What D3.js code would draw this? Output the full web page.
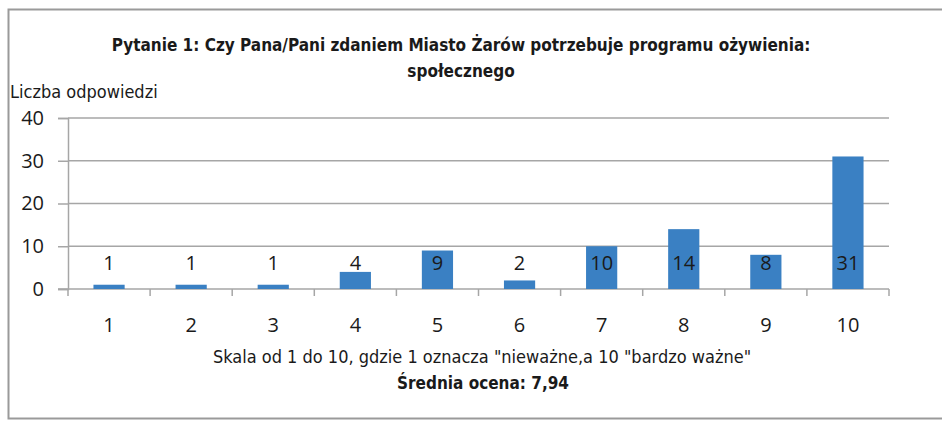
<!DOCTYPE html>
<html>
<head>
<meta charset="utf-8">
<script src="https://cdn.jsdelivr.net/npm/d3@7"></script>
<style>
  body { margin: 0; background: #fff; }
  text { font-family: "Liberation Sans Narrow", "DejaVu Sans Condensed", "Open Sans", sans-serif; fill: #1a1a1a; }
</style>
</head>
<body>
<div id="chart"></div>
<script>
var categories = ["1", "2", "3", "4", "5", "6", "7", "8", "9", "10"];
var values = [1, 1, 1, 4, 9, 2, 10, 14, 8, 31];
var yTicks = [0, 10, 20, 30, 40];
var titleLines = ["Pytanie 1: Czy Pana/Pani zdaniem Miasto Żarów potrzebuje programu ożywienia:", "społecznego"];
var yTitle = "Liczba odpowiedzi";
var xTitle = "Skala od 1 do 10, gdzie 1 oznacza \"nieważne,a 10 \"bardzo ważne\"";
var meanText = "Średnia ocena: 7,94";

var W = 942, H = 421;
var margin = { top: 118, right: 53, bottom: 132, left: 68 },
  width = W - margin.left - margin.right,
  height = H - margin.top - margin.bottom;

var svg = d3.select("#chart")
  .append("svg")
  .attr("width", W)
  .attr("height", H);

// outer frame
svg.append("rect")
  .attr("x", 8.5).attr("y", 9.5)
  .attr("width", W + 10).attr("height", 409)
  .attr("fill", "none")
  .attr("stroke", "#9a9a9a")
  .attr("stroke-width", 2);

var g = svg.append("g")
  .attr("transform", "translate(" + margin.left + "," + margin.top + ")");

var xScale = d3.scaleBand()
  .domain(categories)
  .range([0, width])
  .paddingInner(0.62)
  .paddingOuter(0.31);

var xBand = d3.scaleBand().domain(categories).range([0, width]);

var yScale = d3.scaleLinear()
  .domain([0, 40])
  .range([height, 0]);

// gridlines
g.append("g")
  .selectAll("line")
  .data(yTicks.filter(function (d) { return d > 0; }))
  .enter()
  .append("line")
  .attr("x1", 0).attr("x2", width)
  .attr("y1", function (d) { return yScale(d); })
  .attr("y2", function (d) { return yScale(d); })
  .attr("stroke", "#a6a6a6")
  .attr("stroke-width", 1.5);

// y axis
var yAxis = g.append("g")
  .call(d3.axisLeft(yScale).tickValues(yTicks).tickSize(10).tickPadding(14));
yAxis.selectAll("line").attr("stroke", "#a6a6a6").attr("stroke-width", 1.5);
yAxis.select(".domain").attr("stroke", "#a6a6a6").attr("stroke-width", 1.5);
yAxis.selectAll("text")
  .style("font-family", "'Open Sans', sans-serif")
  .style("font-size", "20px")
  .attr("fill", "#1a1a1a");

// x axis line with ticks at band boundaries
g.append("line")
  .attr("x1", -10).attr("x2", width)
  .attr("y1", height).attr("y2", height)
  .attr("stroke", "#a6a6a6").attr("stroke-width", 1.5);

var bounds = categories.map(function (c) { return xBand(c); }).concat([width]);
g.append("g")
  .selectAll("line")
  .data(bounds)
  .enter()
  .append("line")
  .attr("x1", function (d) { return d; })
  .attr("x2", function (d) { return d; })
  .attr("y1", height).attr("y2", height + 7)
  .attr("stroke", "#a6a6a6").attr("stroke-width", 1.5);

g.append("g")
  .selectAll("text")
  .data(categories)
  .enter()
  .append("text")
  .attr("x", function (d) { return xBand(d) + xBand.bandwidth() / 2; })
  .attr("y", height + 43)
  .attr("text-anchor", "middle")
  .style("font-family", "'Open Sans', sans-serif")
  .style("font-size", "20px")
  .text(function (d) { return d; });

// bars
g.append("g")
  .selectAll("rect")
  .data(values)
  .enter()
  .append("rect")
  .attr("x", function (d, i) { return xScale(categories[i]); })
  .attr("y", function (d) { return yScale(d); })
  .attr("width", xScale.bandwidth())
  .attr("height", function (d) { return height - yScale(d); })
  .attr("fill", "#3a80c3");

// value labels
g.append("g")
  .selectAll("text")
  .data(values)
  .enter()
  .append("text")
  .attr("x", function (d, i) { return xBand(categories[i]) + xBand.bandwidth() / 2; })
  .attr("y", yScale(4.4))
  .attr("text-anchor", "middle")
  .style("font-family", "'Open Sans', sans-serif")
  .style("font-size", "20px")
  .text(function (d) { return d; });

// titles
svg.append("g")
  .selectAll("text")
  .data(titleLines)
  .enter()
  .append("text")
  .attr("x", 461)
  .attr("y", function (d, i) { return 51 + i * 26; })
  .attr("text-anchor", "middle")
  .style("font-size", "17px")
  .style("font-weight", "bold")
  .text(function (d) { return d; });

svg.append("text")
  .attr("x", 10).attr("y", 98)
  .style("font-size", "18px")
  .text(yTitle);

svg.append("text")
  .attr("x", 482).attr("y", 363)
  .attr("text-anchor", "middle")
  .style("font-size", "18px")
  .text(xTitle);

svg.append("text")
  .attr("x", 483).attr("y", 389)
  .attr("text-anchor", "middle")
  .style("font-size", "17px")
  .style("font-weight", "bold")
  .text(meanText);
</script>
</body>
</html>
